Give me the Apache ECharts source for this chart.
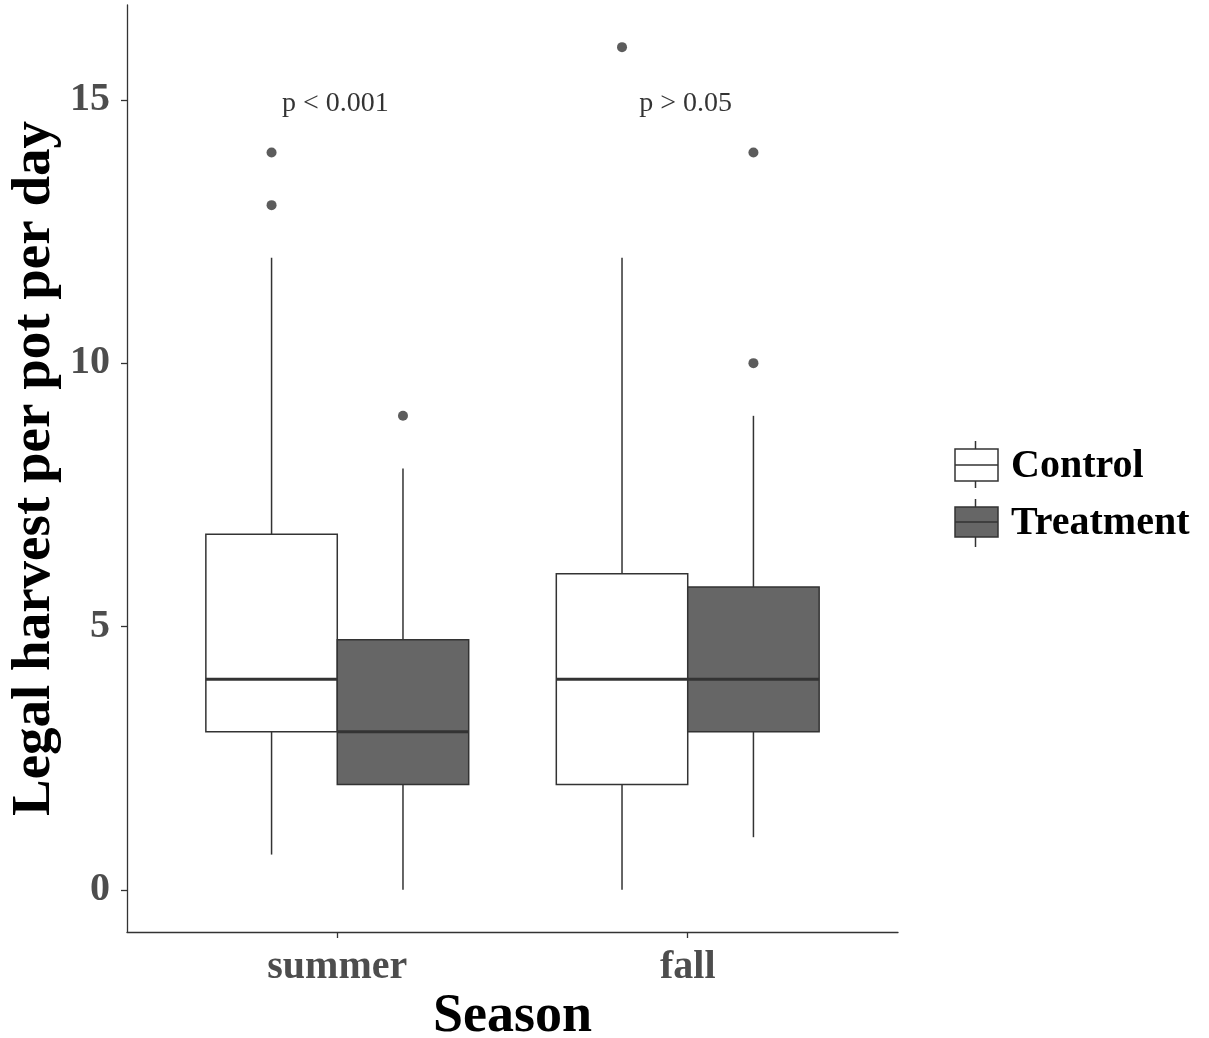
<!DOCTYPE html>
<html>
<head>
<meta charset="utf-8">
<script src="https://cdn.jsdelivr.net/npm/echarts@6/dist/echarts.min.js"></script>
<style>
html,body{margin:0;padding:0;background:#fff;}
#chart{width:1209px;height:1038px;}
</style>
</head>
<body>
<div id="chart"></div>
<script>
// ---- data ----
const seasons = ['summer', 'fall'];
const groups = ['Control', 'Treatment'];
// [lower whisker, Q1, median, Q3, upper whisker]
const controlStats = [[0.67, 3, 4, 6.75, 12], [0, 2, 4, 6, 12]];
const treatmentStats = [[0, 2, 3, 4.75, 8], [1, 3, 4, 5.75, 9]];
const controlOutliers = [[13, 14], [16]];
const treatmentOutliers = [[9], [10, 14]];
const pLabels = ['p < 0.001', 'p > 0.05'];
const pLabelY = [15, 15];
const yTicks = [0, 5, 10, 15];
const yMin = -0.8, yMax = 16.8;

// ---- layout helpers ----
const FONT = '"Liberation Serif", "Times New Roman", serif';
const dodge = 0.1875, boxW = 0.375;
const fills = ['#FFFFFF', '#666666'];
const stroke = '#333333';

function boxData(stats, offset) {
  return stats.map((s, i) => [i + 1 + offset].concat(s));
}
function outlierData(outs, offset) {
  const r = [];
  outs.forEach((arr, i) => arr.forEach(v => r.push([i + 1 + offset, v])));
  return r;
}

function renderBox(params, api) {
  const x = api.value(0);
  const lo = api.value(1), q1 = api.value(2), med = api.value(3), q3 = api.value(4), hi = api.value(5);
  const pLeftQ3 = api.coord([x - boxW / 2, q3]);
  const pRightQ1 = api.coord([x + boxW / 2, q1]);
  const pc = api.coord([x, med]);
  const pLo = api.coord([x, lo]);
  const pHi = api.coord([x, hi]);
  const pMedL = api.coord([x - boxW / 2, med]);
  const pMedR = api.coord([x + boxW / 2, med]);
  const fill = api.visual('color');
  return {
    type: 'group',
    children: [
      { type: 'line', shape: { x1: pHi[0], y1: pHi[1], x2: pc[0], y2: pLeftQ3[1] }, style: { stroke: stroke, lineWidth: 1.5 } },
      { type: 'line', shape: { x1: pLo[0], y1: pLo[1], x2: pc[0], y2: pRightQ1[1] }, style: { stroke: stroke, lineWidth: 1.5 } },
      { type: 'rect', shape: { x: pLeftQ3[0], y: pLeftQ3[1], width: pRightQ1[0] - pLeftQ3[0], height: pRightQ1[1] - pLeftQ3[1] }, style: { fill: fill, stroke: stroke, lineWidth: 1.5 } },
      { type: 'line', shape: { x1: pMedL[0], y1: pMedL[1], x2: pMedR[0], y2: pMedR[1] }, style: { stroke: stroke, lineWidth: 3 } }
    ]
  };
}

const chart = echarts.init(document.getElementById('chart'), null, { renderer: 'canvas' });

const option = {
  backgroundColor: '#ffffff',
  animation: false,
  grid: { left: 127, right: 311, top: 5, bottom: 106, containLabel: false, outerBoundsMode: 'none' },
  xAxis: {
    type: 'value', min: 0.4, max: 2.6,
    splitLine: { show: false },
    axisLine: { show: true, onZero: false, lineStyle: { color: stroke, width: 1.3 } },
    axisTick: { show: true, customValues: [1, 2], length: 6, lineStyle: { color: stroke, width: 1.3 } },
    axisLabel: {
      customValues: [1, 2],
      formatter: v => seasons[Math.round(v) - 1] || '',
      color: '#4D4D4D', fontFamily: FONT, fontWeight: 'bold', fontSize: 40, margin: 16
    },
    name: 'Season', nameLocation: 'middle', nameGap: 58, nameMoveOverlap: false,
    nameTextStyle: { color: '#000', fontFamily: FONT, fontWeight: 'bold', fontSize: 54 }
  },
  yAxis: {
    type: 'value', min: yMin, max: yMax,
    splitLine: { show: false },
    axisLine: { show: true, onZero: false, lineStyle: { color: stroke, width: 1.3 } },
    axisTick: { show: true, customValues: yTicks, length: 6, lineStyle: { color: stroke, width: 1.3 } },
    axisLabel: {
      customValues: yTicks,
      color: '#4D4D4D', fontFamily: FONT, fontWeight: 'bold', fontSize: 40, margin: 17,
      padding: [6, 0, 0, 0]
    },
    name: 'Legal harvest per pot per day', nameLocation: 'middle', nameGap: 65, nameRotate: 90,
    nameMoveOverlap: false,
    nameTextStyle: { color: '#000', fontFamily: FONT, fontWeight: 'bold', fontSize: 55 }
  },
  series: [
    {
      name: groups[0], type: 'custom', renderItem: renderBox,
      itemStyle: { color: fills[0] },
      encode: { x: 0, y: [1, 2, 3, 4, 5] },
      data: boxData(controlStats, -dodge), z: 2
    },
    {
      name: groups[1], type: 'custom', renderItem: renderBox,
      itemStyle: { color: fills[1] },
      encode: { x: 0, y: [1, 2, 3, 4, 5] },
      data: boxData(treatmentStats, dodge), z: 2
    },
    {
      type: 'scatter', symbol: 'circle', symbolSize: 10,
      itemStyle: { color: stroke },
      data: outlierData(controlOutliers, -dodge).concat(outlierData(treatmentOutliers, dodge)), z: 3
    },
    {
      type: 'scatter', symbolSize: 0,
      label: {
        show: true, position: 'inside', formatter: p => p.data.name,
        color: '#000', fontFamily: FONT, fontSize: 28, offset: [-2, 4]
      },
      data: pLabels.map((t, i) => ({ name: t, value: [i + 1, pLabelY[i]] })), z: 4
    }
  ],
  graphic: [
    // Control key
    { type: 'line', shape: { x1: 975.5, y1: 441, x2: 975.5, y2: 488 }, style: { stroke: stroke, lineWidth: 1.5 } },
    { type: 'rect', shape: { x: 955, y: 449, width: 43, height: 32 }, style: { fill: fills[0], stroke: stroke, lineWidth: 1.5 } },
    { type: 'line', shape: { x1: 955, y1: 465, x2: 998, y2: 465 }, style: { stroke: stroke, lineWidth: 1.5 } },
    { type: 'text', x: 1011, y: 467, style: { text: groups[0], fill: '#000', font: 'bold 40px ' + FONT, verticalAlign: 'middle', align: 'left' } },
    // Treatment key
    { type: 'line', shape: { x1: 975.5, y1: 499, x2: 975.5, y2: 547 }, style: { stroke: stroke, lineWidth: 1.5 } },
    { type: 'rect', shape: { x: 955, y: 507, width: 43, height: 30 }, style: { fill: fills[1], stroke: stroke, lineWidth: 1.5 } },
    { type: 'line', shape: { x1: 955, y1: 522, x2: 998, y2: 522 }, style: { stroke: stroke, lineWidth: 1.5 } },
    { type: 'text', x: 1011, y: 524, style: { text: groups[1], fill: '#000', font: 'bold 40px ' + FONT, verticalAlign: 'middle', align: 'left' } }
  ]
};
chart.setOption(option);
</script>
</body>
</html>
